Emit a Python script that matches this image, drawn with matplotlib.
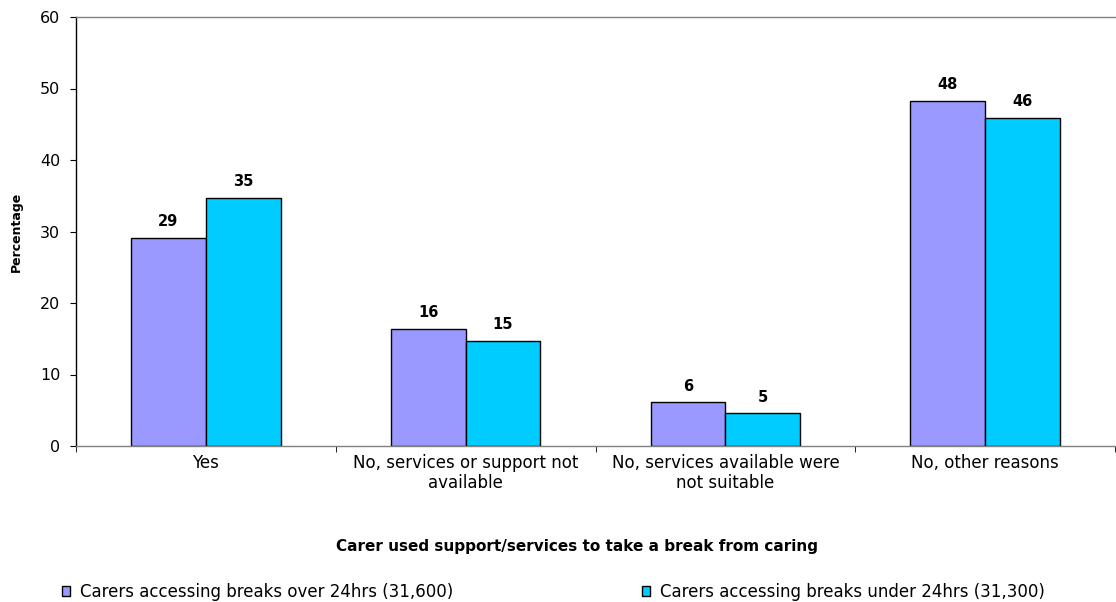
import matplotlib
matplotlib.use("Agg")
import matplotlib.pyplot as plt
import numpy as np

plt.rcParams['font.family'] = ['DejaVu Sans']

categories = ["Yes", "No, services or support not\navailable",
              "No, services available were\nnot suitable", "No, other reasons"]
over_24 = [29.1, 16.4, 6.1, 48.3]
under_24 = [34.7, 14.7, 4.6, 45.9]
over_labels = ["29", "16", "6", "48"]
under_labels = ["35", "15", "5", "46"]
series_names = ["Carers accessing breaks over 24hrs (31,600)",
                "Carers accessing breaks under 24hrs (31,300)"]
yticks = [0, 10, 20, 30, 40, 50, 60]

fig = plt.figure(figsize=(11.16, 6.02), dpi=100)
ax = fig.add_axes([76/1116, 1-446/602, (1115-76)/1116, (446-17)/602])

x = np.arange(len(categories))
w = 0.288
b1 = ax.bar(x - w/2, over_24, w, color="#9999FF", edgecolor="black", linewidth=1, label=series_names[0])
b2 = ax.bar(x + w/2, under_24, w, color="#00CCFF", edgecolor="black", linewidth=1, label=series_names[1])
for rect, lab in zip(b1, over_labels):
    ax.text(rect.get_x() + rect.get_width()/2, rect.get_height() + 1.2, lab,
            ha="center", va="bottom", fontsize=10.5, fontweight="bold")
for rect, lab in zip(b2, under_labels):
    ax.text(rect.get_x() + rect.get_width()/2, rect.get_height() + 1.2, lab,
            ha="center", va="bottom", fontsize=10.5, fontweight="bold")

ax.set_xlim(-0.5, len(categories) - 0.5)
ax.set_ylim(0, 60)
ax.set_yticks(yticks)
ax.set_yticklabels([str(t) for t in yticks], fontsize=11.5)
ax.set_xticks(x)
ax.set_xticklabels(categories, fontsize=12, linespacing=1.15)
ax.tick_params(axis="x", length=0, pad=6)
ax.set_xticks(np.arange(len(categories) + 1) - 0.5, minor=True)
ax.tick_params(axis="x", which="minor", length=4.3, color="black")
ax.tick_params(axis="y", length=4.3, direction="out", color="black", pad=7)

ax.spines["right"].set_visible(False)
ax.spines["top"].set_color("#808080")
ax.spines["bottom"].set_color("#808080")
ax.spines["left"].set_color("black")
for s in ax.spines.values():
    s.set_linewidth(1)

fig.text(16/1116, 1-232/602, "Percentage", rotation=90, ha="center", va="center",
         fontsize=9, fontweight="bold")
fig.text(577/1116, 1-547/602, "Carer used support/services to take a break from caring",
         ha="center", va="center", fontsize=11, fontweight="bold")

h1 = plt.Rectangle((0, 0), 1, 1, facecolor="#9999FF", edgecolor="black")
h2 = plt.Rectangle((0, 0), 1, 1, facecolor="#00CCFF", edgecolor="black")
fig.legend([h1], [series_names[0]], loc="center left", bbox_to_anchor=(62/1116, 1-592/602),
           frameon=False, fontsize=12, handlelength=0.5, handleheight=0.5, handletextpad=0.6,
           borderpad=0, borderaxespad=0)
fig.legend([h2], [series_names[1]], loc="center left", bbox_to_anchor=(642/1116, 1-592/602),
           frameon=False, fontsize=12, handlelength=0.5, handleheight=0.5, handletextpad=0.6,
           borderpad=0, borderaxespad=0)

fig.savefig("out.png", dpi=100)
